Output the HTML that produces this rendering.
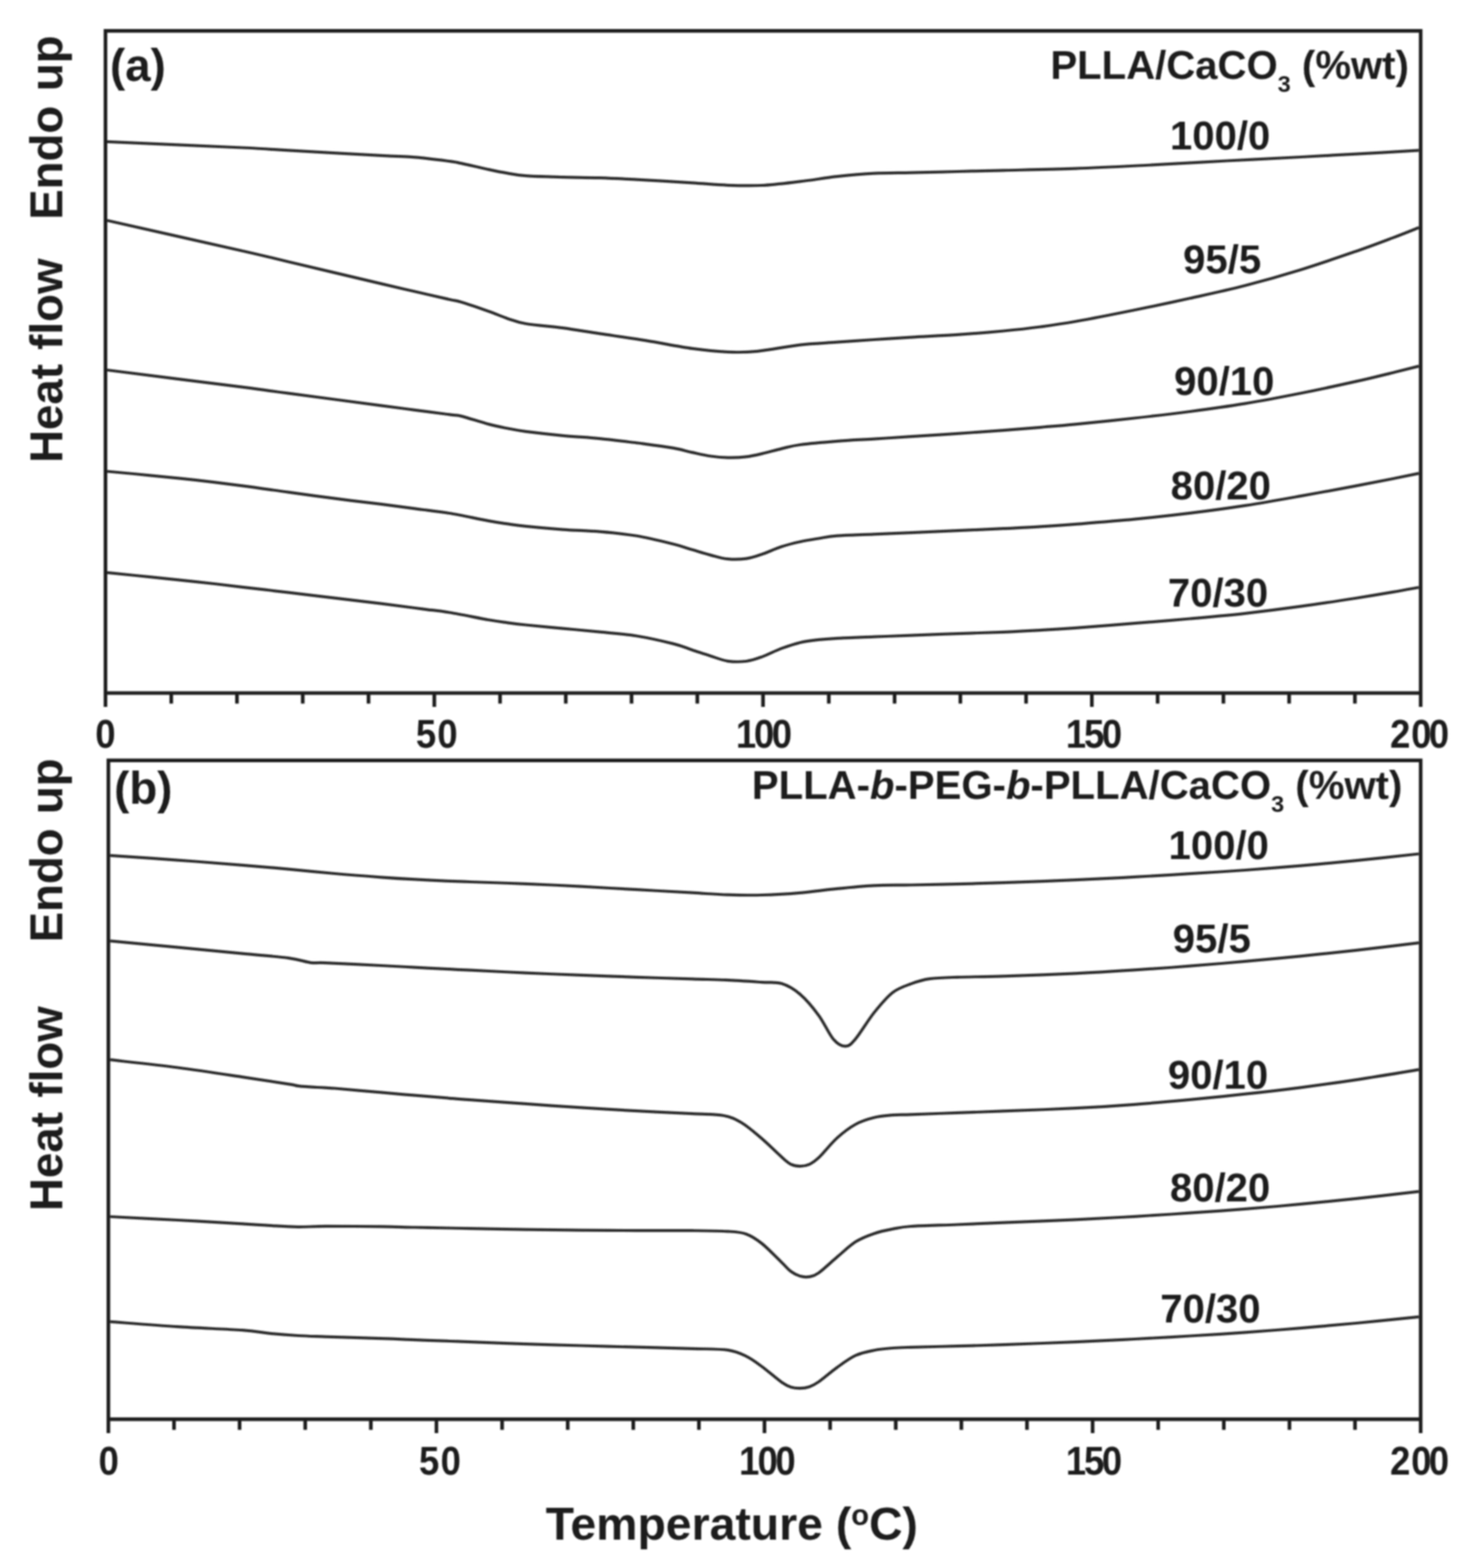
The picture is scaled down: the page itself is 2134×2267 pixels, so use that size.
<!DOCTYPE html>
<html lang="en"><head><meta charset="utf-8"><title>DSC thermograms</title>
<style>
html,body{margin:0;padding:0;background:#fff;}
body{width:2134px;height:2267px;overflow:hidden;}
svg{display:block;}
text{font-family:"Liberation Sans",Arial,Helvetica,sans-serif;font-weight:bold;fill:#1c1c1c;}
.ax{stroke:#1c1c1c;stroke-width:5.2;fill:none;stroke-linecap:butt;}
.cv{stroke:#2a2a2a;stroke-width:4.2;fill:none;stroke-linejoin:round;}
.tk{font-size:58px;}
.lb{font-size:58px;}
.yl{font-size:66px;}
.pn{font-size:66px;}
.xl{font-size:67px;}
</style></head><body>
<svg xmlns="http://www.w3.org/2000/svg" width="2134" height="2267" viewBox="0 0 2134 2267">
<defs><filter id="soft" x="-2%" y="-2%" width="104%" height="104%"><feGaussianBlur stdDeviation="1.1"/></filter></defs>
<rect width="2134" height="2267" fill="#fff"/>
<g filter="url(#soft)">
<path class="ax" d="M152.5 1022.0V44.7H2054.0V1022.0 M149.9 1002.0H2056.6"/>
<path class="ax" d="M247.6 1002.0V1017.2M342.6 1002.0V1017.2M437.7 1002.0V1017.2M532.8 1002.0V1017.2M627.9 1002.0V1022.0M723.0 1002.0V1017.2M818.0 1002.0V1017.2M913.1 1002.0V1017.2M1008.2 1002.0V1017.2M1103.2 1002.0V1022.0M1198.3 1002.0V1017.2M1293.4 1002.0V1017.2M1388.5 1002.0V1017.2M1483.5 1002.0V1017.2M1578.6 1002.0V1022.0M1673.7 1002.0V1017.2M1768.8 1002.0V1017.2M1863.8 1002.0V1017.2M1958.9 1002.0V1017.2"/>
<path class="ax" d="M156.7 2072.0V1099.3H2054.0V2072.0 M154.1 2051.8H2056.6"/>
<path class="ax" d="M251.6 2051.8V2067.2M346.4 2051.8V2067.2M441.3 2051.8V2067.2M536.2 2051.8V2067.2M631.0 2051.8V2072.0M725.9 2051.8V2067.2M820.8 2051.8V2067.2M915.6 2051.8V2067.2M1010.5 2051.8V2067.2M1105.3 2051.8V2072.0M1200.2 2051.8V2067.2M1295.1 2051.8V2067.2M1389.9 2051.8V2067.2M1484.8 2051.8V2067.2M1579.7 2051.8V2072.0M1674.5 2051.8V2067.2M1769.4 2051.8V2067.2M1864.3 2051.8V2067.2M1959.1 2051.8V2067.2"/>
<path class="cv" d="M155.0 204.9C187.6 206.3 306.7 211.4 350.4 213.5C394.1 215.6 383.8 215.5 417.2 217.4C450.6 219.3 520.4 223.2 550.9 224.9C581.4 226.6 583.5 226.0 600.0 227.4C616.5 228.8 638.9 231.7 650.0 233.1C661.1 234.5 657.3 234.1 666.8 236.1C676.3 238.1 695.8 242.7 706.9 245.1C718.0 247.5 724.7 248.9 733.6 250.4C742.5 251.9 746.9 253.1 760.3 254.1C773.7 255.1 796.0 255.6 813.8 256.1C831.6 256.6 847.2 256.5 867.2 257.2C887.2 257.9 911.7 259.1 934.0 260.3C956.3 261.5 981.2 263.1 1000.9 264.4C1020.6 265.6 1035.4 267.2 1052.2 267.8C1069.0 268.4 1084.2 268.9 1101.7 268.0C1119.2 267.1 1138.8 264.5 1156.9 262.4C1175.0 260.3 1192.5 257.1 1210.3 255.2C1228.1 253.2 1246.0 251.6 1263.8 250.7C1281.6 249.8 1297.2 250.0 1317.2 249.6C1337.2 249.2 1361.7 248.6 1384.0 248.0C1406.3 247.4 1422.4 247.0 1450.9 246.3C1479.4 245.6 1519.0 244.9 1555.0 243.6C1591.0 242.3 1630.4 240.2 1666.9 238.4C1703.4 236.6 1738.2 234.4 1773.8 232.5C1809.4 230.6 1849.5 228.7 1880.7 227.0C1911.9 225.3 1932.4 224.2 1960.9 222.6C1989.4 221.0 2036.4 218.3 2051.5 217.4"/>
<path class="cv" d="M155.0 318.8C187.6 326.1 306.7 352.8 350.4 362.7C394.1 372.6 383.8 370.6 417.2 378.5C450.6 386.4 520.4 402.9 550.9 410.1C581.4 417.3 583.5 417.7 600.0 421.5C616.5 425.3 638.9 430.4 650.0 433.0C661.1 435.6 657.3 433.9 666.8 436.8C676.3 439.7 695.8 446.4 706.9 450.3C718.0 454.2 724.7 457.4 733.6 460.4C742.5 463.3 746.9 465.7 760.3 468.0C773.7 470.3 796.0 471.8 813.8 474.2C831.6 476.6 847.2 479.4 867.2 482.4C887.2 485.4 911.7 488.8 934.0 492.4C956.3 496.0 981.2 501.1 1000.9 503.9C1020.6 506.6 1036.5 508.2 1052.2 508.9C1067.9 509.6 1077.5 509.6 1095.0 507.9C1112.5 506.2 1137.7 500.8 1156.9 498.6C1176.1 496.4 1192.5 496.0 1210.3 494.7C1228.1 493.4 1246.0 492.2 1263.8 491.0C1281.6 489.8 1297.2 488.8 1317.2 487.6C1337.2 486.4 1361.7 485.4 1384.0 483.9C1406.3 482.4 1430.9 480.4 1450.9 478.5C1471.0 476.6 1487.0 474.8 1504.3 472.5C1521.6 470.2 1532.3 468.8 1555.0 464.8C1577.7 460.8 1612.7 453.9 1640.2 448.3C1667.8 442.7 1693.6 437.2 1720.3 431.3C1747.0 425.4 1773.8 419.7 1800.5 412.8C1827.2 405.9 1854.0 398.3 1880.7 390.0C1907.4 381.7 1938.6 370.9 1960.9 363.2C1983.2 355.5 1999.2 349.3 2014.3 343.6C2029.4 337.9 2045.3 331.4 2051.5 329.0"/>
<path class="cv" d="M155.0 535.0C187.6 539.1 306.7 554.1 350.4 559.7C394.1 565.3 383.8 564.3 417.2 568.7C450.6 573.1 520.4 582.3 550.9 586.3C581.4 590.3 583.2 590.6 600.0 592.8C616.8 595.0 640.6 598.1 651.7 599.6C662.8 601.1 657.6 599.3 666.8 601.6C676.0 603.9 695.8 610.5 706.9 613.4C718.0 616.3 724.7 617.5 733.6 619.3C742.5 621.0 746.9 622.1 760.3 623.9C773.7 625.6 796.0 628.1 813.8 629.8C831.6 631.5 849.4 632.4 867.2 634.1C885.0 635.9 909.6 639.0 920.7 640.3C931.8 641.6 925.1 640.8 934.0 642.1C942.9 643.4 963.0 645.9 974.1 647.9C985.2 649.9 992.0 652.2 1000.9 654.1C1009.8 656.0 1019.0 658.2 1027.6 659.5C1036.1 660.8 1043.7 661.5 1052.2 661.6C1060.8 661.8 1070.7 661.4 1078.9 660.4C1087.2 659.4 1093.2 657.9 1101.7 655.9C1110.2 653.9 1121.0 650.8 1130.2 648.6C1139.4 646.5 1143.6 644.8 1156.9 643.0C1170.2 641.2 1192.5 639.2 1210.3 637.8C1228.1 636.4 1246.0 635.7 1263.8 634.6C1281.6 633.5 1297.2 632.5 1317.2 631.2C1337.2 629.9 1361.7 628.3 1384.0 626.8C1406.3 625.3 1430.9 623.6 1450.9 622.1C1471.0 620.6 1487.0 619.3 1504.3 617.8C1521.6 616.3 1532.3 615.5 1555.0 613.3C1577.7 611.1 1612.7 607.5 1640.2 604.5C1667.8 601.5 1693.6 598.5 1720.3 595.0C1747.0 591.5 1773.8 587.8 1800.5 583.4C1827.2 579.0 1854.0 573.8 1880.7 568.5C1907.4 563.2 1938.6 556.4 1960.9 551.4C1983.2 546.4 1999.2 542.4 2014.3 538.7C2029.4 535.0 2045.3 531.0 2051.5 529.4"/>
<path class="cv" d="M155.0 681.5C165.3 682.5 195.4 685.2 216.8 687.3C238.2 689.4 261.3 691.7 283.6 694.2C305.9 696.7 328.1 699.4 350.4 702.3C372.7 705.2 394.9 708.6 417.2 711.7C439.5 714.8 461.7 717.8 484.0 720.7C506.3 723.6 531.6 726.5 550.9 728.9C570.2 731.3 588.9 733.9 600.0 735.4C611.1 736.9 609.1 736.6 617.7 737.7C626.3 738.9 636.8 739.7 651.7 742.3C666.6 744.9 693.2 750.6 706.9 753.1C720.5 755.6 724.7 756.1 733.6 757.4C742.5 758.7 746.9 759.5 760.3 760.9C773.7 762.3 796.0 764.3 813.8 765.6C831.6 766.9 849.4 767.2 867.2 768.7C885.0 770.2 902.9 771.8 920.7 774.8C938.5 777.8 960.7 783.5 974.1 786.8C987.5 790.1 992.0 792.2 1000.9 794.8C1009.8 797.4 1019.0 800.4 1027.6 802.6C1036.1 804.8 1043.7 807.4 1052.2 808.2C1060.8 809.0 1070.7 808.8 1078.9 807.6C1087.2 806.5 1093.2 804.2 1101.7 801.3C1110.2 798.4 1121.0 793.2 1130.2 790.2C1139.4 787.2 1148.0 785.2 1156.9 783.2C1165.8 781.2 1174.7 779.9 1183.6 778.5C1192.5 777.1 1196.9 775.7 1210.3 774.7C1223.7 773.7 1246.0 773.2 1263.8 772.4C1281.6 771.6 1297.2 771.0 1317.2 770.1C1337.2 769.2 1361.7 768.2 1384.0 767.2C1406.3 766.2 1430.9 765.2 1450.9 764.2C1471.0 763.2 1487.0 762.5 1504.3 761.4C1521.6 760.3 1532.3 759.7 1555.0 757.9C1577.7 756.1 1612.7 753.4 1640.2 750.7C1667.8 748.0 1693.6 745.2 1720.3 741.9C1747.0 738.6 1773.8 735.0 1800.5 730.9C1827.2 726.8 1854.0 721.9 1880.7 717.1C1907.4 712.4 1938.6 706.6 1960.9 702.4C1983.2 698.2 1999.2 695.0 2014.3 692.0C2029.4 689.0 2045.3 685.7 2051.5 684.4"/>
<path class="cv" d="M155.0 827.8C165.3 828.9 195.4 832.0 216.8 834.2C238.2 836.4 261.3 838.7 283.6 841.1C305.9 843.5 328.1 846.2 350.4 848.8C372.7 851.4 394.9 854.0 417.2 856.6C439.5 859.2 461.7 862.0 484.0 864.7C506.3 867.4 531.6 870.3 550.9 872.7C570.2 875.1 588.9 877.6 600.0 879.0C611.1 880.4 609.1 880.2 617.7 881.3C626.3 882.4 636.8 883.3 651.7 885.8C666.6 888.3 693.2 893.9 706.9 896.3C720.5 898.7 724.7 899.1 733.6 900.3C742.5 901.5 746.9 902.1 760.3 903.5C773.7 904.9 796.0 906.9 813.8 908.6C831.6 910.3 849.4 911.9 867.2 913.7C885.0 915.5 902.9 916.6 920.7 919.5C938.5 922.4 960.7 927.5 974.1 930.9C987.5 934.3 992.0 936.8 1000.9 939.7C1009.8 942.6 1019.0 945.8 1027.6 948.5C1036.1 951.2 1043.7 954.5 1052.2 955.8C1060.8 957.0 1070.7 957.0 1078.9 956.0C1087.2 955.0 1093.2 952.7 1101.7 949.6C1110.2 946.5 1121.0 940.8 1130.2 937.4C1139.4 934.0 1148.0 931.1 1156.9 929.0C1165.8 926.9 1174.7 925.9 1183.6 924.9C1192.5 923.9 1196.9 923.5 1210.3 922.8C1223.7 922.1 1246.0 921.4 1263.8 920.7C1281.6 920.0 1297.2 919.4 1317.2 918.6C1337.2 917.8 1361.7 916.9 1384.0 916.1C1406.3 915.3 1430.9 914.6 1450.9 913.8C1471.0 913.0 1487.0 912.1 1504.3 911.1C1521.6 910.1 1532.3 909.5 1555.0 907.9C1577.7 906.2 1612.7 903.4 1640.2 901.2C1667.8 899.0 1693.6 896.9 1720.3 894.5C1747.0 892.1 1773.8 889.8 1800.5 886.8C1827.2 883.8 1854.0 880.4 1880.7 876.7C1907.4 873.0 1938.6 868.2 1960.9 864.7C1983.2 861.2 1999.2 858.5 2014.3 855.9C2029.4 853.3 2045.3 850.3 2051.5 849.2"/>
<path class="cv" d="M159.2 1236.8C175.5 1237.9 225.0 1241.3 256.9 1243.6C288.8 1245.9 323.7 1248.6 350.4 1250.8C377.1 1253.0 394.9 1254.6 417.2 1256.6C439.5 1258.6 461.7 1261.0 484.0 1263.0C506.3 1265.0 531.6 1266.9 550.9 1268.3C570.2 1269.7 583.5 1270.5 600.0 1271.4C616.5 1272.3 636.6 1273.3 650.0 1273.9C663.4 1274.5 661.8 1274.3 680.2 1275.0C698.6 1275.7 733.6 1276.7 760.3 1277.8C787.0 1278.9 813.8 1280.3 840.5 1281.7C867.2 1283.1 894.0 1284.7 920.7 1286.2C947.4 1287.7 979.0 1289.5 1000.9 1290.7C1022.8 1292.0 1035.4 1293.2 1052.2 1293.7C1069.0 1294.2 1084.2 1294.5 1101.7 1294.0C1119.2 1293.5 1138.8 1292.3 1156.9 1290.8C1175.0 1289.3 1192.5 1286.5 1210.3 1284.8C1228.1 1283.0 1246.0 1281.2 1263.8 1280.3C1281.6 1279.4 1297.2 1279.9 1317.2 1279.5C1337.2 1279.1 1361.7 1278.6 1384.0 1278.1C1406.3 1277.5 1422.4 1277.2 1450.9 1276.2C1479.4 1275.2 1523.5 1273.6 1555.0 1272.2C1586.5 1270.8 1612.7 1269.4 1640.2 1267.9C1667.8 1266.4 1693.6 1264.9 1720.3 1263.2C1747.0 1261.5 1773.8 1259.9 1800.5 1258.0C1827.2 1256.1 1854.0 1253.9 1880.7 1251.6C1907.4 1249.3 1932.4 1247.0 1960.9 1244.2C1989.4 1241.4 2036.4 1236.1 2051.5 1234.5"/>
<path class="cv" d="M159.2 1360.4C175.5 1361.9 225.0 1366.6 256.9 1369.6C288.8 1372.6 323.7 1376.0 350.4 1378.6C377.1 1381.2 400.7 1382.9 417.2 1385.1C433.7 1387.3 440.4 1390.6 449.3 1391.8C458.2 1393.0 453.8 1391.4 470.7 1392.1C487.6 1392.8 529.4 1394.9 550.9 1396.0C572.4 1397.1 583.5 1397.7 600.0 1398.6C616.5 1399.5 636.6 1400.5 650.0 1401.2C663.4 1401.9 661.8 1401.8 680.2 1402.7C698.6 1403.6 733.6 1405.4 760.3 1406.6C787.0 1407.8 813.8 1408.9 840.5 1409.9C867.2 1410.9 894.0 1411.9 920.7 1412.8C947.4 1413.7 979.4 1414.7 1000.9 1415.4C1022.4 1416.1 1033.2 1416.1 1050.0 1416.9C1066.8 1417.7 1088.3 1419.2 1101.7 1420.1C1115.1 1421.0 1121.0 1419.2 1130.2 1422.1C1139.4 1425.0 1148.0 1430.0 1156.9 1437.6C1165.8 1445.2 1175.6 1457.1 1183.6 1467.9C1191.6 1478.7 1198.5 1495.1 1205.0 1502.6C1211.5 1510.1 1217.1 1512.8 1222.4 1512.7C1227.8 1512.6 1230.2 1509.9 1237.1 1501.8C1244.0 1493.7 1254.9 1475.1 1263.8 1464.0C1272.7 1452.9 1281.6 1442.0 1290.5 1435.1C1299.4 1428.2 1308.3 1425.7 1317.2 1422.4C1326.1 1419.1 1332.9 1416.8 1344.0 1415.2C1355.1 1413.6 1366.2 1413.4 1384.0 1412.8C1401.8 1412.2 1422.4 1412.3 1450.9 1411.4C1479.4 1410.5 1523.5 1408.9 1555.0 1407.4C1586.5 1405.9 1612.7 1404.2 1640.2 1402.4C1667.8 1400.6 1693.6 1398.8 1720.3 1396.7C1747.0 1394.6 1773.8 1392.3 1800.5 1389.9C1827.2 1387.5 1854.0 1385.0 1880.7 1382.3C1907.4 1379.6 1932.4 1377.0 1960.9 1373.8C1989.4 1370.6 2036.4 1364.9 2051.5 1363.1"/>
<path class="cv" d="M159.2 1532.2C175.5 1534.1 225.0 1539.3 256.9 1543.5C288.8 1547.7 323.7 1553.1 350.4 1557.1C377.1 1561.1 403.6 1565.2 417.2 1567.4C430.8 1569.6 425.2 1569.3 431.9 1570.1C438.6 1570.9 450.8 1571.6 457.3 1572.0C463.8 1572.4 466.2 1572.5 470.7 1572.7C475.1 1573.0 470.6 1572.4 484.0 1573.5C497.4 1574.6 531.6 1577.7 550.9 1579.4C570.2 1581.1 583.5 1582.3 600.0 1583.7C616.5 1585.1 636.6 1586.7 650.0 1587.8C663.4 1588.9 661.8 1588.8 680.2 1590.1C698.6 1591.4 733.6 1594.0 760.3 1595.9C787.0 1597.8 813.8 1599.7 840.5 1601.4C867.2 1603.1 894.0 1604.8 920.7 1606.2C947.4 1607.7 980.1 1609.0 1000.9 1610.1C1021.7 1611.2 1033.6 1610.5 1045.5 1612.7C1057.4 1614.9 1062.8 1617.7 1072.2 1623.3C1081.6 1628.9 1092.0 1638.1 1101.7 1646.4C1111.4 1654.7 1123.2 1666.7 1130.2 1672.9C1137.2 1679.1 1139.0 1681.2 1143.5 1683.4C1148.0 1685.6 1152.4 1686.1 1156.9 1686.1C1161.4 1686.1 1165.8 1685.3 1170.3 1683.3C1174.8 1681.2 1176.9 1680.1 1183.6 1673.8C1190.3 1667.5 1201.4 1653.2 1210.3 1645.2C1219.2 1637.2 1228.2 1630.4 1237.1 1625.5C1246.0 1620.6 1254.9 1618.0 1263.8 1615.8C1272.7 1613.6 1281.6 1613.0 1290.5 1612.2C1299.4 1611.5 1301.6 1611.8 1317.2 1611.3C1332.8 1610.8 1361.7 1609.7 1384.0 1608.9C1406.3 1608.1 1422.4 1607.5 1450.9 1606.4C1479.4 1605.3 1523.5 1603.8 1555.0 1602.2C1586.5 1600.6 1612.7 1598.9 1640.2 1596.8C1667.8 1594.7 1693.6 1592.3 1720.3 1589.8C1747.0 1587.3 1773.8 1584.6 1800.5 1581.7C1827.2 1578.8 1854.0 1575.7 1880.7 1572.3C1907.4 1568.9 1932.4 1565.4 1960.9 1561.1C1989.4 1556.8 2036.4 1548.9 2051.5 1546.4"/>
<path class="cv" d="M159.2 1759.0C175.5 1759.8 225.0 1762.3 256.9 1764.0C288.8 1765.7 328.1 1768.1 350.4 1769.4C372.7 1770.7 377.1 1771.2 390.5 1771.9C403.9 1772.7 417.2 1773.7 430.6 1773.9C444.0 1774.1 450.6 1773.0 470.7 1772.9C490.8 1772.8 529.4 1773.1 550.9 1773.4C572.4 1773.7 583.5 1774.2 600.0 1774.5C616.5 1774.8 636.6 1775.2 650.0 1775.5C663.4 1775.8 661.8 1775.8 680.2 1776.1C698.6 1776.4 733.6 1777.2 760.3 1777.6C787.0 1778.0 813.8 1778.3 840.5 1778.6C867.2 1778.8 894.0 1779.0 920.7 1779.1C947.4 1779.2 979.0 1779.0 1000.9 1779.2C1022.8 1779.4 1039.2 1779.5 1052.2 1780.3C1065.2 1781.1 1070.7 1781.2 1078.9 1784.2C1087.2 1787.2 1093.2 1791.2 1101.7 1798.0C1110.2 1804.8 1123.2 1818.5 1130.2 1825.2C1137.2 1831.9 1139.0 1835.0 1143.5 1838.3C1148.0 1841.6 1152.4 1843.8 1156.9 1845.1C1161.4 1846.4 1165.8 1846.7 1170.3 1845.9C1174.8 1845.1 1176.9 1845.2 1183.6 1840.4C1190.3 1835.7 1201.4 1824.9 1210.3 1817.4C1219.2 1809.9 1228.2 1801.0 1237.1 1795.3C1246.0 1789.6 1254.9 1786.5 1263.8 1783.4C1272.7 1780.3 1281.6 1778.6 1290.5 1776.9C1299.4 1775.2 1301.6 1774.1 1317.2 1773.0C1332.8 1771.9 1361.7 1771.4 1384.0 1770.5C1406.3 1769.6 1422.4 1768.9 1450.9 1767.7C1479.4 1766.5 1523.5 1764.8 1555.0 1763.3C1586.5 1761.8 1612.7 1760.4 1640.2 1758.8C1667.8 1757.2 1693.6 1755.5 1720.3 1753.7C1747.0 1751.9 1773.8 1750.0 1800.5 1747.9C1827.2 1745.8 1854.0 1743.4 1880.7 1740.9C1907.4 1738.4 1932.4 1735.9 1960.9 1732.9C1989.4 1729.9 2036.4 1724.4 2051.5 1722.7"/>
<path class="cv" d="M159.2 1910.9C175.5 1912.1 225.0 1916.2 256.9 1918.2C288.8 1920.2 328.1 1921.6 350.4 1923.2C372.7 1924.8 377.1 1926.6 390.5 1927.9C403.9 1929.2 417.2 1930.2 430.6 1931.0C444.0 1931.8 450.6 1931.9 470.7 1932.6C490.8 1933.3 529.4 1934.3 550.9 1935.1C572.4 1935.8 583.5 1936.4 600.0 1937.1C616.5 1937.8 636.6 1938.5 650.0 1939.0C663.4 1939.5 661.8 1939.5 680.2 1940.2C698.6 1940.9 733.6 1942.2 760.3 1943.1C787.0 1944.0 813.8 1944.7 840.5 1945.5C867.2 1946.3 894.0 1947.0 920.7 1947.7C947.4 1948.4 979.0 1949.1 1000.9 1949.8C1022.8 1950.5 1039.2 1950.1 1052.2 1951.9C1065.2 1953.8 1070.7 1956.9 1078.9 1960.9C1087.2 1964.9 1093.2 1969.6 1101.7 1975.9C1110.2 1982.2 1123.2 1993.6 1130.2 1998.5C1137.2 2003.4 1139.0 2004.0 1143.5 2005.4C1148.0 2006.8 1152.4 2007.2 1156.9 2007.1C1161.4 2007.0 1165.8 2006.4 1170.3 2004.9C1174.8 2003.4 1176.9 2002.6 1183.6 1997.9C1190.3 1993.2 1201.4 1983.4 1210.3 1977.0C1219.2 1970.6 1228.2 1963.8 1237.1 1959.7C1246.0 1955.6 1254.9 1954.0 1263.8 1952.2C1272.7 1950.4 1281.6 1949.7 1290.5 1949.0C1299.4 1948.3 1301.6 1948.3 1317.2 1947.8C1332.8 1947.3 1361.7 1946.8 1384.0 1946.2C1406.3 1945.6 1422.4 1945.1 1450.9 1944.1C1479.4 1943.1 1523.5 1941.4 1555.0 1940.1C1586.5 1938.8 1612.7 1937.4 1640.2 1936.0C1667.8 1934.6 1693.6 1933.1 1720.3 1931.5C1747.0 1929.9 1773.8 1928.3 1800.5 1926.4C1827.2 1924.5 1854.0 1922.3 1880.7 1920.1C1907.4 1917.9 1932.4 1915.7 1960.9 1913.0C1989.4 1910.3 2036.4 1905.4 2051.5 1903.9"/>
<text class="pn" x="159" y="116.5">(a)</text>
<text class="pn" x="165" y="1161.5">(b)</text>
<text class="yl" word-spacing="2.2" transform="translate(90.2 669.3) rotate(-90)">Heat flow</text>
<text class="yl" word-spacing="2.7" transform="translate(90.2 317.8) rotate(-90)">Endo up</text>
<text class="yl" word-spacing="2.7" transform="translate(90.2 1750.9) rotate(-90)">Heat flow</text>
<text class="yl" word-spacing="2.2" transform="translate(90.2 1362.6) rotate(-90)">Endo up</text>
<text class="lb" text-anchor="end" x="2037" y="114.4">PLLA/CaCO<tspan font-size="34" dy="19">3</tspan><tspan dy="-19"> (%wt)</tspan></text>
<text class="lb" text-anchor="end" x="2027.5" y="1155">PLLA-<tspan font-style="italic">b</tspan>-PEG-<tspan font-style="italic">b</tspan>-PLLA/CaCO<tspan font-size="34" dy="19">3</tspan><tspan dy="-19"> (%wt)</tspan></text>
<text class="lb" text-anchor="middle" x="1764" y="215.5">100/0</text>
<text class="lb" text-anchor="middle" x="1767" y="394.5">95/5</text>
<text class="lb" text-anchor="middle" x="1770" y="570.6">90/10</text>
<text class="lb" text-anchor="middle" x="1765" y="722.0">80/20</text>
<text class="lb" text-anchor="middle" x="1761" y="877.0">70/30</text>
<text class="lb" text-anchor="middle" x="1762" y="1242.3">100/0</text>
<text class="lb" text-anchor="middle" x="1752" y="1376.5">95/5</text>
<text class="lb" text-anchor="middle" x="1761" y="1574.0">90/10</text>
<text class="lb" text-anchor="middle" x="1764" y="1737.3">80/20</text>
<text class="lb" text-anchor="middle" x="1750" y="1911.8">70/30</text>
<text class="tk" transform="translate(0 1081) scale(0.91 1)" x="151.48" y="0">0</text>
<text class="tk" transform="translate(0 1081) scale(0.91 1)" x="660.60 694.78" y="0">50</text>
<text class="tk" transform="translate(0 1081) scale(0.91 1)" x="1169.34 1197.91 1226.10" y="0">100</text>
<text class="tk" transform="translate(0 1081) scale(0.91 1)" x="1693.30 1722.36 1750.60" y="0">150</text>
<text class="tk" transform="translate(0 1081) scale(0.91 1)" x="2208.53 2241.92 2270.11" y="0">200</text>
<text class="tk" transform="translate(0 2131.5) scale(0.91 1)" x="156.70" y="0">0</text>
<text class="tk" transform="translate(0 2131.5) scale(0.91 1)" x="665.60 700.05" y="0">50</text>
<text class="tk" transform="translate(0 2131.5) scale(0.91 1)" x="1174.07 1203.46 1231.98" y="0">100</text>
<text class="tk" transform="translate(0 2131.5) scale(0.91 1)" x="1693.30 1722.36 1750.60" y="0">150</text>
<text class="tk" transform="translate(0 2131.5) scale(0.91 1)" x="2208.53 2241.92 2270.11" y="0">200</text>
<text class="xl" text-anchor="middle" x="1058" y="2226.4">Temperature (<tspan font-size="42" dy="-21">o</tspan><tspan dy="21">C)</tspan></text>
</g></svg></body></html>
